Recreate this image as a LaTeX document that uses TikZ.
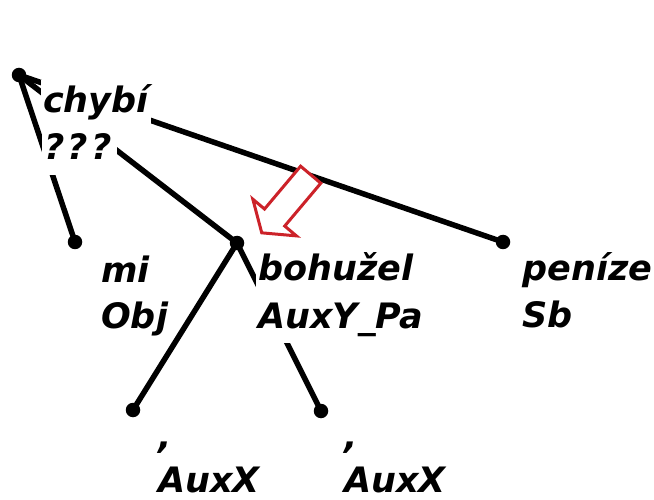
\documentclass[tikz,border=0pt]{standalone}
\usepackage{fontspec}
\newfontfamily\labfam{DejaVu Sans}
\begin{document}
\begin{tikzpicture}[x=1pt,y=-1pt,
  dot/.style={circle,fill=black,inner sep=0pt,minimum size=14.5pt},
  edge/.style={line width=5.5pt},
  lab/.style={anchor=base west,fill=white,inner xsep=2pt,inner ysep=1pt,
    text height=32pt,text depth=14pt,
    font=\labfam\bfseries\itshape\fontsize{35}{47}\selectfont},
  lastlab/.style={lab,text depth=3.5pt},
  hint/.style={draw={rgb,255:red,204;green,34;blue,41},line width=3pt,fill=white,line join=miter}]
\useasboundingbox (0,0) rectangle (654,500);
% tree nodes (dots)
\node[dot] (r) at (19,75) {};
\node[dot] (mi) at (75,242) {};
\node[dot] (boh) at (237,243) {};
\node[dot] (pen) at (503,242) {};
\node[dot] (c1) at (133,410) {};
\node[dot] (c2) at (321,411) {};
% edges
\draw[edge] (r.center) -- (mi.center);
\draw[edge] (r.center) -- (boh.center);
\draw[edge] (r.center) -- (pen.center);
\draw[edge] (boh.center) -- (c1.center);
\draw[edge] (boh.center) -- (c2.center);
% labels
\node[lab] (rA) at (41,113) {chybí};
\node[lab] (rB) at (42,160) {?\kern3.5pt?\kern3.5pt?\kern3pt};
\node[lab] (miA) at (99,282) {mi};
\node[lab] (miB) at (99,328) {Obj};
\node[lab] (bohA) at (256,280) {bohužel};
\node[lab] (bohB) at (256,328) {AuxY\_Pa};
\node[lab,inner xsep=0.5pt] (penA) at (522,280) {peníze};
\node[lab,inner xsep=0.5pt] (penB) at (522,327) {Sb};
\node[lab] (c1A) at (156,448) {,};
\node[lastlab] (c1B) at (156,492) {AuxX};
\node[lab] (c2A) at (342,448) {,};
\node[lastlab] (c2B) at (342,492) {AuxX};
% red hollow arrow
\begin{scope}[shift={(310.7,174.7)},rotate=229.9]
\draw[hint] (0,-13.2) -- (56,-13.2) -- (56,-28.5) -- (76,0) -- (56,28.5) -- (56,13.2) -- (0,13.2) -- cycle;
\end{scope}
\end{tikzpicture}
\end{document}
